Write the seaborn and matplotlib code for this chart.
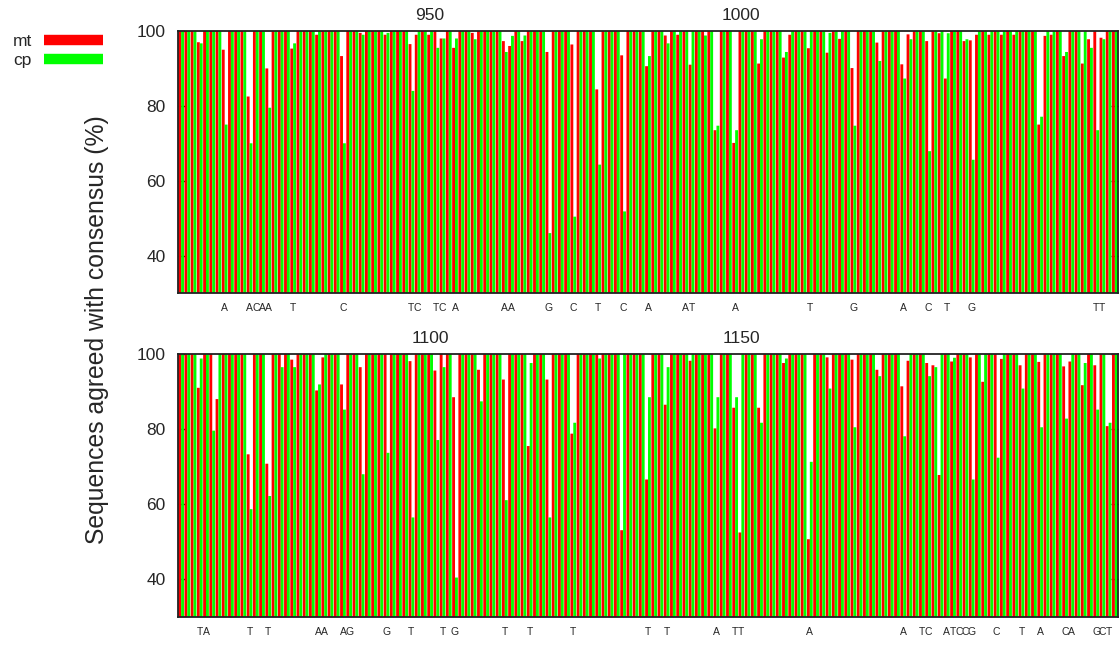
import numpy as np
import pandas as pd
import matplotlib
matplotlib.use("Agg")
import matplotlib.pyplot as plt
import seaborn as sns
from matplotlib.lines import Line2D

# ---------------- data ----------------
# sequence positions shown in the two panels
positions1 = list(range(910, 1061))
positions2 = list(range(1060, 1211))

# Panel 1: positions where agreement with consensus is below 100 %
dip1_pos = [913, 917, 921, 924, 928, 932, 936, 939, 943, 947, 948, 950, 951, 952,
            954, 957, 962, 963, 965, 969, 973, 977, 981, 985, 988, 990, 992, 994,
            996, 999, 1003, 1007, 1008, 1011, 1014, 1016, 1018, 1022, 1026, 1027,
            1030, 1032, 1033, 1036, 1037, 1038, 1040, 1042, 1044, 1048, 1049, 1050,
            1052, 1055, 1056, 1057, 1058]
dip1_mt = [97.0, 95.0, 82.5, 90.0, 95.3, 99.0, 93.3, 99.5, 99.0, 96.5, 99.0, 99.0, 100.0, 98.0,
           95.5, 99.5, 97.3, 96.0, 97.3, 94.4, 96.4, 84.4, 93.5, 90.6, 98.8, 99.0, 91.0, 100.0,
           73.5, 70.1, 91.3, 92.9, 99.0, 95.4, 94.2, 97.9, 90.1, 96.9, 91.1, 99.1,
           97.3, 99.4, 87.3, 97.3, 97.5, 99.0, 99.0, 99.0, 99.0, 75.0, 98.7, 99.0,
           93.3, 91.3, 97.8, 100.0, 98.2]
dip1_cp = [96.7, 75.0, 70.0, 79.5, 96.7, 100.0, 70.0, 99.0, 99.5, 84.0, 100.0, 100.0, 95.5, 98.0,
           98.0, 97.8, 94.4, 98.7, 98.8, 46.0, 50.4, 64.3, 51.8, 93.3, 96.7, 100.0, 100.0, 98.8,
           74.7, 73.5, 97.8, 94.4, 100.0, 100.0, 99.5, 100.0, 74.7, 92.0, 87.3, 97.8,
           67.9, 100.0, 99.4, 97.8, 65.6, 100.0, 100.0, 100.0, 100.0, 77.1, 100.0, 100.0,
           94.4, 100.0, 95.5, 73.5, 97.8]

# Panel 2
dip2_pos = [1063, 1065, 1066, 1071, 1074, 1076, 1078, 1082, 1083, 1086, 1089, 1093, 1097,
            1101, 1102, 1104, 1108, 1112, 1116, 1119, 1123, 1127, 1131, 1135, 1138, 1142,
            1146, 1149, 1150, 1153, 1157, 1161, 1164, 1168, 1172, 1176, 1177, 1180, 1181,
            1182, 1184, 1187, 1189, 1191, 1192, 1195, 1198, 1202, 1203, 1205, 1207, 1209]
dip2_mt = [91.0, 100.0, 88.0, 73.3, 70.8, 100.0, 98.5, 90.3, 99.1, 91.9, 96.5, 100.0, 98.1,
           95.6, 100.0, 88.5, 95.8, 93.2, 75.5, 93.2, 78.8, 100.0, 53.1, 66.6, 86.5, 98.2,
           80.2, 85.7, 52.5, 85.7, 97.6, 50.7, 99.1, 98.5, 95.8, 91.4, 98.2, 97.6, 97.0,
           67.8, 98.0, 99.1, 92.6, 100.0, 98.7, 97.0, 97.9, 96.7, 98.0, 91.7, 97.0, 80.8]
dip2_cp = [98.8, 79.6, 100.0, 58.7, 62.2, 96.5, 96.5, 91.9, 100.0, 85.2, 68.0, 73.7, 56.5,
           77.1, 96.5, 40.5, 87.4, 61.1, 97.6, 56.5, 81.7, 98.8, 100.0, 88.5, 96.5, 100.0,
           88.5, 88.5, 100.0, 81.7, 98.8, 71.3, 90.8, 80.5, 94.1, 78.1, 100.0, 94.1, 96.5,
           100.0, 99.0, 66.6, 100.0, 72.4, 100.0, 90.8, 80.5, 82.8, 100.0, 97.6, 85.2, 81.7]

# consensus bases printed under the bars
lab1_pos = [917, 921, 922, 923, 924, 928, 936, 947, 948, 951, 952, 954, 962, 963, 969,
            973, 977, 981, 985, 991, 992, 999, 1011, 1018, 1026, 1030, 1033, 1037, 1057, 1058]
lab1_txt = list("AACAATCTCTCAAAGCTCAATATGACTGTT")
lab2_pos = [1063, 1064, 1071, 1074, 1082, 1083, 1086, 1087, 1093, 1097, 1102, 1104, 1112,
            1116, 1123, 1135, 1138, 1146, 1149, 1150, 1161, 1176, 1179, 1180, 1183, 1184,
            1185, 1186, 1187, 1191, 1195, 1198, 1202, 1203, 1207, 1208, 1209]
lab2_txt = list("TATTAAAGGTTGTTTTTATTAATCATCCGCTACAGCT")

top1_ticks = [950, 1000]
top2_ticks = [1100, 1150]

series_names = ["mt", "cp"]
series_colors = ["#ff0000", "#00ff00"]


def build(positions, dpos, dmt, dcp):
    mt = {p: 100.0 for p in positions}
    cp = {p: 100.0 for p in positions}
    for p, a, b in zip(dpos, dmt, dcp):
        if p in mt:
            mt[p] = a
            cp[p] = b
    rows = []
    for p in positions:
        rows.append((p, "mt", mt[p]))
        rows.append((p, "cp", cp[p]))
    return pd.DataFrame(rows, columns=["pos", "seq", "value"])


df1 = build(positions1, dip1_pos, dip1_mt, dip1_cp)
df2 = build(positions2, dip2_pos, dip2_mt, dip2_cp)

# ---------------- figure ----------------
sns.set_theme(style="white")
plt.rcParams["font.family"] = ["Liberation Sans", "DejaVu Sans"]

fig = plt.figure(figsize=(11.2, 6.48), dpi=100)
W, H = 1120, 648
ax1 = fig.add_axes([178 / W, 1 - 293 / H, 940 / W, 262 / H])
ax2 = fig.add_axes([178 / W, 1 - 617 / H, 940 / W, 263 / H])

for ax, df, positions, lpos, ltxt, tticks in [
    (ax1, df1, positions1, lab1_pos, lab1_txt, top1_ticks),
    (ax2, df2, positions2, lab2_pos, lab2_txt, top2_ticks),
]:
    sns.barplot(data=df, x="pos", y="value", hue="seq", order=positions,
                hue_order=series_names, palette=series_colors, width=0.92,
                saturation=1, linewidth=0, legend=False, ax=ax, errorbar=None)
    for p in ax.patches:
        p.set_snap(False)
        p.set_antialiased(True)
    ax.set_xlim(-0.5, len(positions) - 0.5)
    ax.set_ylim(30, 100)
    ax.set_yticks([40, 60, 80, 100])
    ax.set_yticklabels(["40", "60", "80", "100"])
    ax.tick_params(axis="y", direction="in", left=True, right=True, length=5,
                   width=1, labelsize=12.5, pad=9, color="black")
    start = positions[0]
    ax.set_xticks([p - start for p in lpos])
    ax.set_xticklabels(ltxt, fontsize=7.5)
    ax.tick_params(axis="x", length=0, pad=7, labelsize=7.5)
    ax.set_xlabel("")
    ax.set_ylabel("")
    sec = ax.secondary_xaxis("top")
    sec.set_xticks([t - start for t in tticks])
    sec.set_xticklabels([str(t) for t in tticks])
    sec.tick_params(length=0, pad=6, labelsize=12.5)
    for s in sec.spines.values():
        s.set_visible(False)
    for s in ax.spines.values():
        s.set_visible(True)
        s.set_color("#222222")
        s.set_linewidth(1.3)
        s.set_zorder(5)

fig.text(97 / W, 1 - 330 / H, "Sequences agreed with consensus (%)", rotation=90,
         ha="center", va="center", fontsize=17.8)

handles = [Line2D([], [], color=c, lw=7.5, solid_capstyle="butt") for c in series_colors]
fig.legend(handles, series_names, loc="upper left", bbox_to_anchor=(0.011, 0.947),
           frameon=False, markerfirst=False, handlelength=3.4, handletextpad=0.7,
           labelspacing=0.2, fontsize=12.5, borderaxespad=0, borderpad=0)

fig.savefig("out.png", dpi=100)
